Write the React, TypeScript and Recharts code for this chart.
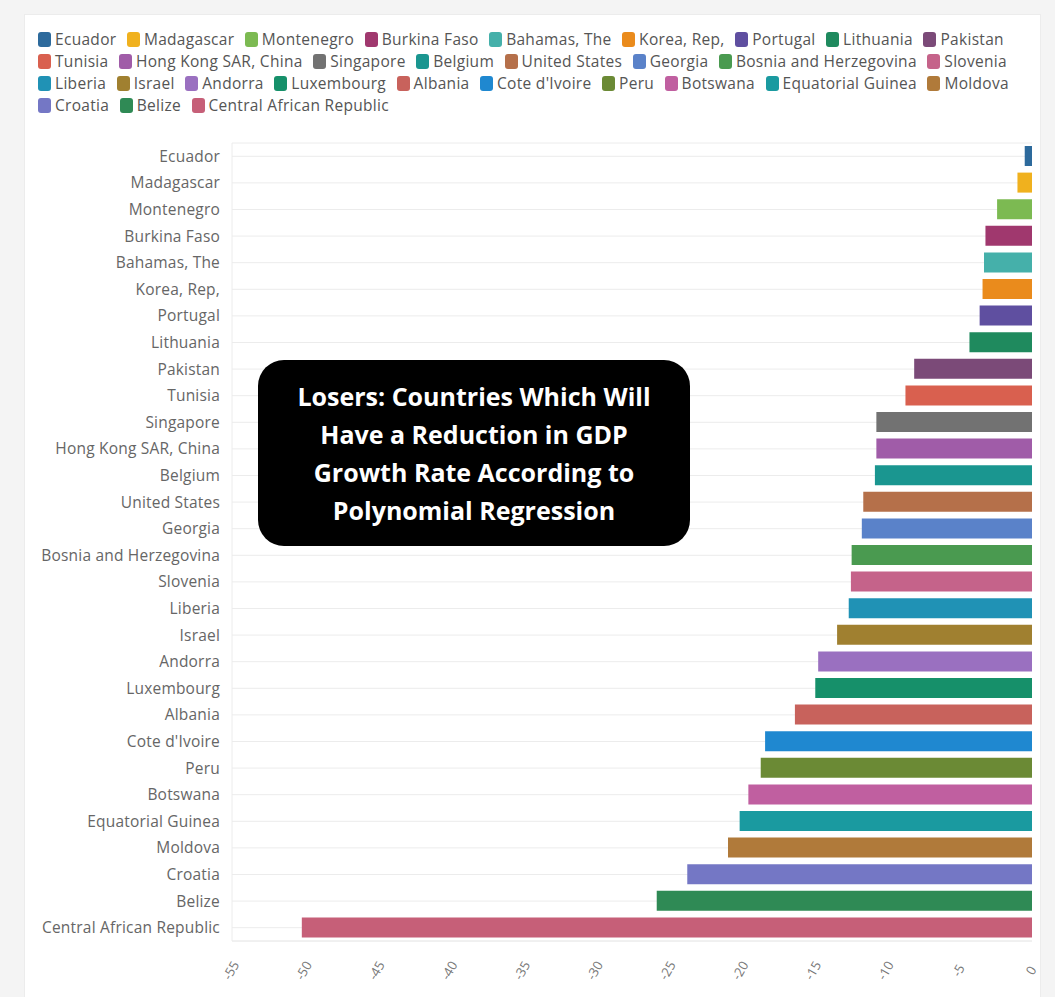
import { BarChart, Bar, XAxis, YAxis, CartesianGrid, Cell } from 'recharts';

const countries = [
  'Ecuador', 'Madagascar', 'Montenegro', 'Burkina Faso', 'Bahamas, The', 'Korea, Rep,', 'Portugal',
  'Lithuania', 'Pakistan', 'Tunisia', 'Singapore', 'Hong Kong SAR, China', 'Belgium', 'United States',
  'Georgia', 'Bosnia and Herzegovina', 'Slovenia', 'Liberia', 'Israel', 'Andorra', 'Luxembourg',
  'Albania', "Cote d'Ivoire", 'Peru', 'Botswana', 'Equatorial Guinea', 'Moldova', 'Croatia', 'Belize',
  'Central African Republic',
];

const growthChange = [
  -0.5, -1.0, -2.4, -3.2, -3.3, -3.4, -3.6, -4.3, -8.1, -8.7, -10.7, -10.7, -10.8, -11.6, -11.7,
  -12.4, -12.45, -12.6, -13.4, -14.7, -14.9, -16.3, -18.35, -18.65, -19.5, -20.1, -20.9, -23.7, -25.8,
  -50.2,
];

const colors = [
  '#2d6a9c', '#f0b11e', '#7cba52', '#a0386e', '#45b0aa', '#ea8b1c', '#5f4fa0', '#1f8a5e', '#7b4a78',
  '#d9604f', '#727272', '#a05ca8', '#1a9690', '#b5704a', '#5a82c9', '#4a9a50', '#c5638a', '#2092b5',
  '#a08030', '#9a70c0', '#16906a', '#c8625c', '#1f88d0', '#6b8a35', '#c05fa0', '#1a9aa0', '#b07a3a',
  '#7477c5', '#2f8a55', '#c65f78',
];

// legend order (Hong Kong comes before Singapore there)
const legendNames = [
  'Ecuador', 'Madagascar', 'Montenegro', 'Burkina Faso', 'Bahamas, The', 'Korea, Rep,', 'Portugal',
  'Lithuania', 'Pakistan', 'Tunisia', 'Hong Kong SAR, China', 'Singapore', 'Belgium', 'United States',
  'Georgia', 'Bosnia and Herzegovina', 'Slovenia', 'Liberia', 'Israel', 'Andorra', 'Luxembourg',
  'Albania', "Cote d'Ivoire", 'Peru', 'Botswana', 'Equatorial Guinea', 'Moldova', 'Croatia', 'Belize',
  'Central African Republic',
];

const xTicks = [-55, -50, -45, -40, -35, -30, -25, -20, -15, -10, -5, 0];

// legend rows break where the picture breaks
const legendRows = [[0, 9], [9, 17], [17, 27], [27, 30]];

const annotation = [
  'Losers: Countries Which Will',
  'Have a Reduction in GDP',
  'Growth Rate According to',
  'Polynomial Regression',
];

const data = countries.map((name, i) => ({ name, value: growthChange[i] }));

const FONT = '"Open Sans", "Noto Sans", sans-serif';

function XTick({ x, y, payload }: any) {
  return (
    <text
      x={x}
      y={y + 22}
      transform={`rotate(-60, ${x}, ${y + 22})`}
      textAnchor="middle"
      dominantBaseline="middle"
      fill="#777"
      fontSize={13}
      fontFamily={FONT}
    >
      {payload.value}
    </text>
  );
}

export default function App() {
  return (
    <div style={{ position: 'absolute', left: 0, top: 0, width: 1055, height: 997, background: '#f4f4f4', fontFamily: FONT }}>
      <div style={{ position: 'absolute', left: 24, top: 14, width: 1015, height: 983, background: '#fff', border: '1px solid #ececec' }} />

      <div style={{ position: 'absolute', left: 38, top: 28 }}>
        {legendRows.map(([a, b], r) => (
          <div key={r} style={{ display: 'flex', alignItems: 'center', height: 22 }}>
            {legendNames.slice(a, b).map((c) => (
              <div key={c} style={{ display: 'flex', alignItems: 'center', marginRight: 10.5 }}>
                <span style={{ width: 13, height: 15, borderRadius: 3, background: colors[countries.indexOf(c)], display: 'inline-block', marginRight: 4 }} />
                <span style={{ fontSize: 15.5, letterSpacing: 0.3, color: '#555', whiteSpace: 'nowrap' }}>{c}</span>
              </div>
            ))}
          </div>
        ))}
      </div>

      <div style={{ position: 'absolute', left: 0, top: 0 }}>
        <BarChart
          width={1055}
          height={997}
          data={data}
          layout="vertical"
          margin={{ top: 143, right: 23, bottom: 0, left: 32 }}
          barSize={20}
        >
          <CartesianGrid vertical={false} stroke="#ececec" />
          <XAxis
            type="number"
            domain={[-55, 0]}
            ticks={xTicks}
            tick={<XTick />}
            tickLine={false}
            axisLine={{ stroke: '#ececec' }}
            height={56}
          />
          <YAxis
            type="category"
            dataKey="name"
            width={200}
            tickLine={false}
            tickSize={0}
            tickMargin={12}
            axisLine={{ stroke: '#ececec' }}
            interval={0}
            tick={{ fill: '#666', fontSize: 15.5, letterSpacing: 0.2, fontFamily: FONT }}
          />
          <Bar dataKey="value" isAnimationActive={false}>
            {data.map((d, i) => (
              <Cell key={d.name} fill={colors[i]} />
            ))}
          </Bar>
        </BarChart>
      </div>

      <div
        style={{
          position: 'absolute', left: 258, top: 360, width: 432, height: 186, background: '#000',
          borderRadius: 26, color: '#fff', fontWeight: 700, fontSize: 25, lineHeight: '38px',
          display: 'flex', flexDirection: 'column', justifyContent: 'center', alignItems: 'center',
        }}
      >
        {annotation.map((l) => (
          <div key={l}>{l}</div>
        ))}
      </div>
    </div>
  );
}
